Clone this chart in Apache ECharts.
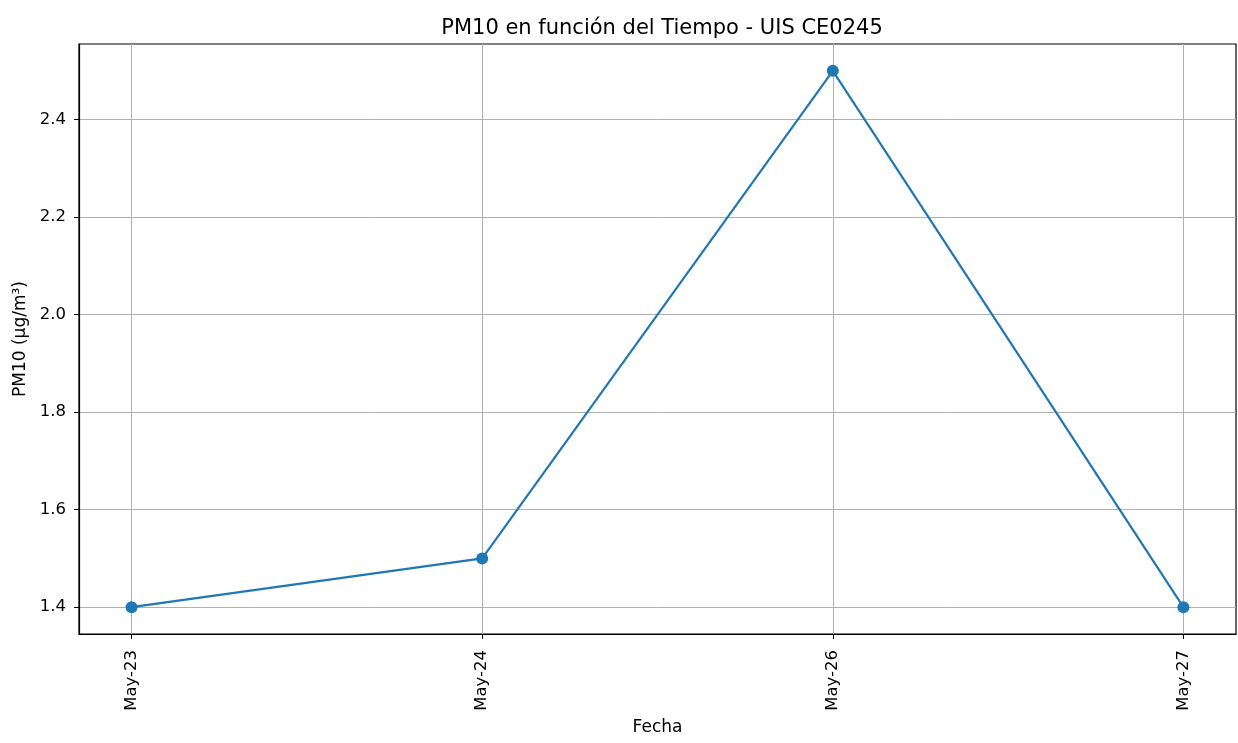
<!DOCTYPE html>
<html>
<head>
<meta charset="utf-8">
<script src="https://cdn.jsdelivr.net/npm/echarts@6/dist/echarts.min.js"></script>
<style>
  body { margin: 0; background: #fff; }
  #chart { width: 1238px; height: 743px; }
</style>
</head>
<body>
<div id="chart"></div>
<script>
  // datos
  const fechas = ['May-23', 'May-24', 'May-26', 'May-27'];
  const pm10 = [1.4, 1.5, 2.5, 1.4];
  const yTicks = [1.4, 1.6, 1.8, 2.0, 2.2, 2.4];
  const xTicks = [0, 1, 2, 3];

  const font = 'DejaVu Sans';
  let chart = echarts.init(document.getElementById('chart'));

  let option = {
    backgroundColor: '#ffffff',
    animation: false,
    title: {
      text: 'PM10 en función del Tiempo - UIS CE0245',
      left: 657,
      textAlign: 'center',
      top: 13,
      textStyle: { fontFamily: font, fontSize: 21, fontWeight: 'normal', color: '#000' }
    },
    grid: { left: 79, right: 2, top: 44, bottom: 109, show: true, borderColor: '#000', borderWidth: 1.2 },
    xAxis: {
      type: 'value',
      min: -0.15,
      max: 3.15,
      name: 'Fecha',
      nameLocation: 'middle',
      nameGap: 82,
      nameTextStyle: { fontFamily: font, fontSize: 17, color: '#000' },
      axisLine: { show: true, onZero: false, lineStyle: { color: '#000', width: 1.2 } },
      axisTick: { show: true, length: 5, customValues: xTicks, lineStyle: { color: '#000' } },
      axisLabel: {
        customValues: xTicks,
        rotate: 90,
        margin: 16,
        fontFamily: font, fontSize: 16.5, color: '#000',
        formatter: v => fechas[Math.round(v)]
      },
      splitLine: { show: true, lineStyle: { color: '#b0b0b0', width: 1 } }
    },
    yAxis: {
      type: 'value',
      min: 1.345,
      max: 2.555,
      name: 'PM10 (µg/m³)',
      nameLocation: 'middle',
      nameGap: 50,
      nameTextStyle: { fontFamily: font, fontSize: 17, color: '#000' },
      axisLine: { show: true, onZero: false, lineStyle: { color: '#000', width: 1.2 } },
      axisTick: { show: true, length: 5, customValues: yTicks, lineStyle: { color: '#000' } },
      axisLabel: {
        customValues: yTicks,
        margin: 13,
        fontFamily: font, fontSize: 16.5, color: '#000',
        formatter: v => v.toFixed(1)
      },
      splitLine: { show: true, lineStyle: { color: '#b0b0b0', width: 1 } }
    },
    series: [
      {
        type: 'line',
        data: pm10.map((v, i) => [i, v]),
        symbol: 'circle',
        symbolSize: 12,
        itemStyle: { color: '#1f77b4' },
        lineStyle: { color: '#1f77b4', width: 2.2 },
        z: 3
      }
    ]
  };

  chart.setOption(option);
</script>
</body>
</html>
